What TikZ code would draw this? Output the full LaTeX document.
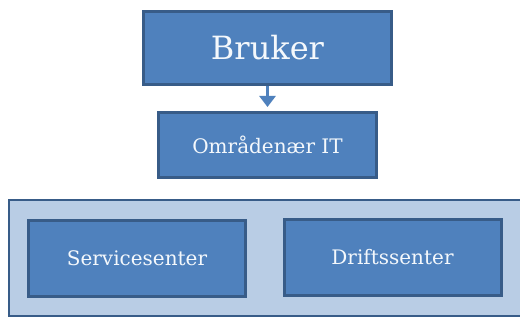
\documentclass[tikz,border=0pt]{standalone}
\usepackage{fontspec}
\setmainfont{DejaVu Serif}
\usetikzlibrary{arrows.meta}
\definecolor{boxfill}{HTML}{4F81BD}
\definecolor{boxline}{HTML}{385C88}
\definecolor{outerfill}{HTML}{B9CDE5}
\definecolor{txt}{HTML}{F4F8FC}
\begin{document}
\begin{tikzpicture}[x=1pt,y=-1pt,
  bluebox/.style={draw=boxline,fill=boxfill,line width=3pt,text=txt,inner sep=0},
  outerbox/.style={draw=boxline,fill=outerfill,line width=2.5pt}]
\useasboundingbox[fill=white] (0,0) rectangle (520,320);
% outer container (right edge runs off the picture)
\path[outerbox] (528,200) -- (9,200) -- (9,316) -- (528,316) -- cycle;
\node[bluebox,minimum width=248,minimum height=73,
  font=\fontsize{32}{36}\selectfont] (bruker) at (267.5,48) {Bruker};
\node[bluebox,minimum width=218,minimum height=65,
  font=\fontsize{20}{24}\selectfont] (omr) at (267.5,145) {Områdenær IT};
\node[bluebox,minimum width=217,minimum height=76,
  font=\fontsize{20}{24}\selectfont] (svc) at (137,258.5) {Servicesenter};
\node[bluebox,minimum width=217,minimum height=76,
  font=\fontsize{20}{24}\selectfont] (drift) at (392.5,257.5) {Driftssenter};
\draw[boxfill,line width=3pt,shorten >=4pt,-{Triangle[length=11pt,width=16pt]}] (bruker.south) -- (omr.north);
\end{tikzpicture}
\end{document}
